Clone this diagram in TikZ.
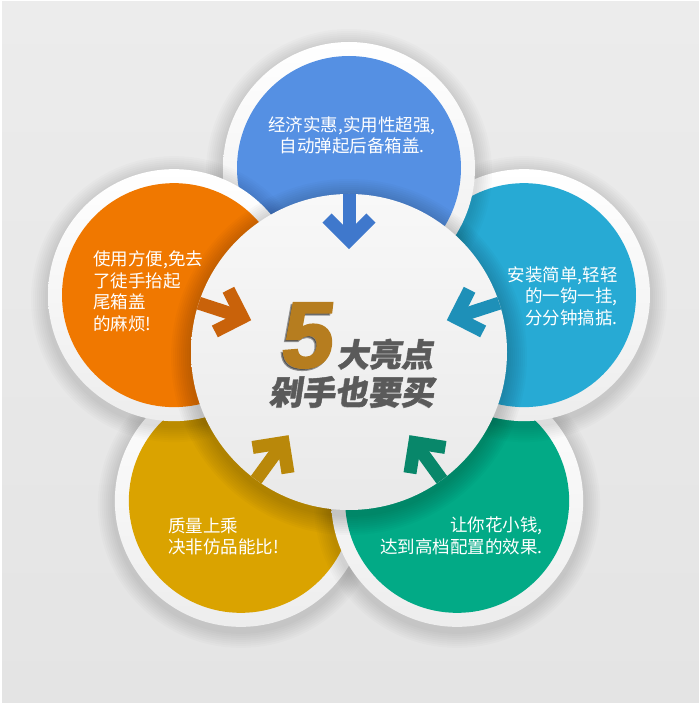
\documentclass[tikz,border=0pt]{standalone}
\usepackage{fontspec}
\setmainfont{Liberation Sans}
\newfontfamily\cjk{Noto Sans CJK SC}
\newfontfamily\cjkheavy[FakeSlant=0.15,FakeBold=1.2]{Noto Sans CJK SC}
\newfontfamily\numfont[FakeSlant=0.12,FakeBold=2.5]{Liberation Sans}
\usetikzlibrary{calc}
\definecolor{bgtop}{HTML}{ECECEC}
\definecolor{bgbot}{HTML}{E4E4E4}
\definecolor{ringgray}{HTML}{EDEDED}
\definecolor{cblue}{HTML}{5590E3}
\definecolor{ccyan}{HTML}{27AAD4}
\definecolor{cgreen}{HTML}{02AA86}
\definecolor{cgold}{HTML}{DAA300}
\definecolor{corange}{HTML}{F07800}
\definecolor{ablue}{HTML}{3F78CC}
\definecolor{acyan}{HTML}{1E90B8}
\definecolor{agreen}{HTML}{08876A}
\definecolor{agold}{HTML}{B9880A}
\definecolor{aorange}{HTML}{C9620A}
\definecolor{numcol}{HTML}{B67D1F}
\definecolor{headcol}{HTML}{5A5A5A}
\definecolor{ctop}{HTML}{F8F8F8}
\definecolor{cbot}{HTML}{E9E9E9}
\newcommand\mybubble[3]{%
  \coordinate (#1) at ($(C)+(#2:184)$);
  \foreach \k in {1,...,8}
    \fill[black,opacity=0.016] ($(#1)+(0,-4)$) circle ({127+2*\k});
  \shade[top color=white, bottom color=ringgray] (#1) circle (126);
  \fill[#3] (#1) circle (112);
}
\newcommand\myarrow[3]{%
  \pgfmathsetmacro\angA{#2+45}%
  \pgfmathsetmacro\angB{#2-45}%
  \coordinate (#1s) at ($(C)+(#2:158)$);
  \coordinate (#1v) at ($(C)+(#2:112)$);
  \coordinate (#1a) at ($(#1v)+(\angA:31)$);
  \coordinate (#1b) at ($(#1v)+(\angB:31)$);
  \draw[#3, line width=13] (#1s) -- (#1v);
  \draw[#3, line width=13, line join=miter, miter limit=4] (#1a) -- (#1v) -- (#1b);
}
\begin{document}
\begin{tikzpicture}[x=1pt,y=1pt,
  bubbletext/.style={text=white, font=\cjk\fontsize{17.5}{21.5}\selectfont, inner sep=0pt},
  numstyle/.style={font=\numfont\bfseries\fontsize{93}{93}\selectfont, inner sep=0pt, text height=67pt, text depth=0pt},
  headA/.style={font=\cjkheavy\bfseries\fontsize{32}{32}\selectfont, inner sep=0pt, text height=27pt, text depth=1pt},
  headB/.style={font=\cjkheavy\bfseries\fontsize{33}{33}\selectfont, inner sep=0pt, text height=28pt, text depth=1pt}]
\useasboundingbox (0,0) rectangle (700,705);
\shade[top color=bgtop, bottom color=bgbot] (0,0) rectangle (700,705);
\draw[white, line width=3] (0,0) rectangle (700,705);
\coordinate (C) at (349,353);
% bubbles, bottom to top
\mybubble{gold}{-126}{cgold}
\mybubble{green}{-54}{cgreen}
\mybubble{cyan}{18}{ccyan}
\mybubble{blue}{90}{cblue}
\mybubble{orange}{162}{corange}
% centre disc
\foreach \k in {1,...,10}
  \fill[black,opacity=0.018] ($(C)+(0,-5)$) circle ({158+2*\k});
\shade[top color=ctop, bottom color=cbot] (C) circle (158);
% arrows
\myarrow{ab}{90}{ablue}
\myarrow{ac}{18}{acyan}
\myarrow{ag}{-54}{agreen}
\myarrow{ay}{-126}{agold}
\myarrow{ao}{162}{aorange}
% bubble texts
\node[bubbletext, align=center] (tblue) at (352,569.5) {经济实惠,实用性超强,\\自动弹起后备箱盖.};
\node[bubbletext, align=left, anchor=west] (torange) at (93,413.5) {使用方便,免去\\了徒手抬起\\尾箱盖\\的麻烦!};
\node[bubbletext, align=right, anchor=east] (tcyan) at (618,409) {安装简单,轻轻\\的一钩一挂,\\分分钟搞掂.};
\node[bubbletext, align=left, anchor=west] (tgold) at (168,168.5) {质量上乘\\决非仿品能比!};
\node[bubbletext, align=right, anchor=east] (tgreen) at (543,169) {让你花小钱,\\达到高档配置的效果.};
% centre title
\node[numstyle, text=black, opacity=0.4] (fiveshadow) at (303,369.5) {5};
\node[numstyle, text=numcol] (five) at (305,371.5) {5};
\node[headA, text=black, opacity=0.15] (h1s) at (384.5,351) {大亮点};
\node[headA, text=headcol] (h1) at (385,351.5) {大亮点};
\node[headB, text=black, opacity=0.15] (h2s) at (351,313.5) {剁手也要买};
\node[headB, text=headcol] (h2) at (351.5,314) {剁手也要买};
\end{tikzpicture}
\end{document}
